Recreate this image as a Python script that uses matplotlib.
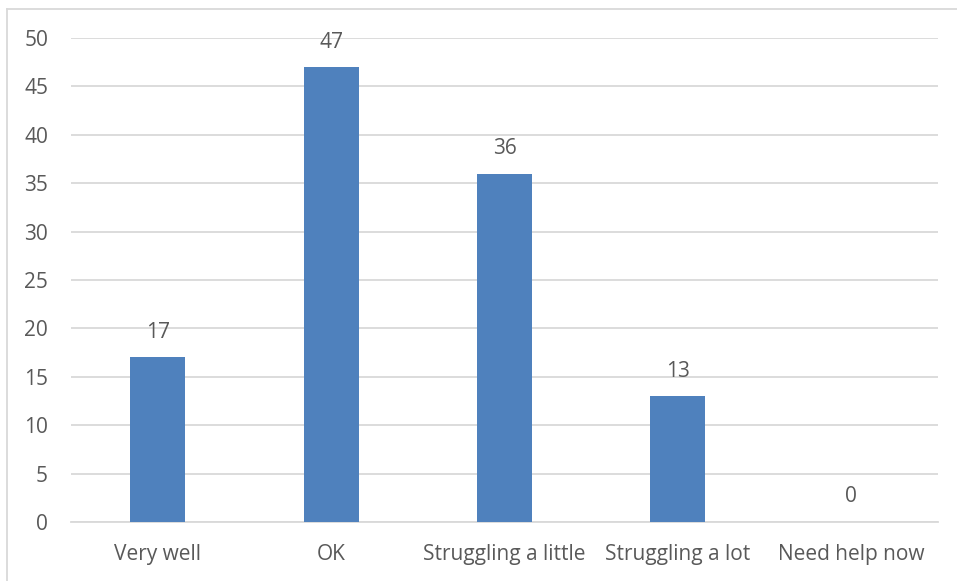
import matplotlib
matplotlib.use("Agg")
import matplotlib.pyplot as plt
from matplotlib.lines import Line2D

categories = ["Very well", "OK", "Struggling a little", "Struggling a lot", "Need help now"]
counts = [17, 47, 36, 13, 0]
yticks = [0, 5, 10, 15, 20, 25, 30, 35, 40, 45, 50]

W, H = 957, 581
plt.rcParams["font.family"] = ["Open Sans", "DejaVu Sans"]
text_color = "#595959"
grid_color = "#D9D9D9"
bar_color = "#4F81BD"
fs = 15

fig = plt.figure(figsize=(W / 100, H / 100), dpi=100)
ax = fig.add_axes([71 / W, (H - 522) / H, (938 - 71) / W, (522 - 38) / H])

x = list(range(len(categories)))
ax.bar(x, counts, width=0.317, color=bar_color, zorder=3)
for xi, v in zip(x, counts):
    ax.text(xi, v + 1.5, str(v), ha="center", va="bottom", fontsize=fs, color=text_color)

ax.set_xlim(-0.5, len(categories) - 0.5)
ax.set_ylim(0, 50)
ax.set_yticks(yticks)
ax.set_xticks(x)
ax.set_xticklabels(categories)
ax.yaxis.grid(True, color=grid_color, linewidth=1.3, zorder=0)
ax.xaxis.grid(False)
for side in ["top", "right", "left"]:
    ax.spines[side].set_visible(False)
ax.spines["bottom"].set_color(grid_color)
ax.spines["bottom"].set_linewidth(1.3)
ax.tick_params(axis="both", length=0, labelsize=fs, labelcolor=text_color)
ax.tick_params(axis="y", pad=16.5)
ax.tick_params(axis="x", pad=16)

# outer chart frame
fig.add_artist(Line2D([7 / W, 7 / W], [0, (H - 9) / H], color=grid_color, linewidth=1.3))
fig.add_artist(Line2D([7 / W, 1], [(H - 9) / H, (H - 9) / H], color=grid_color, linewidth=1.3))

fig.savefig("out.png", dpi=100)
